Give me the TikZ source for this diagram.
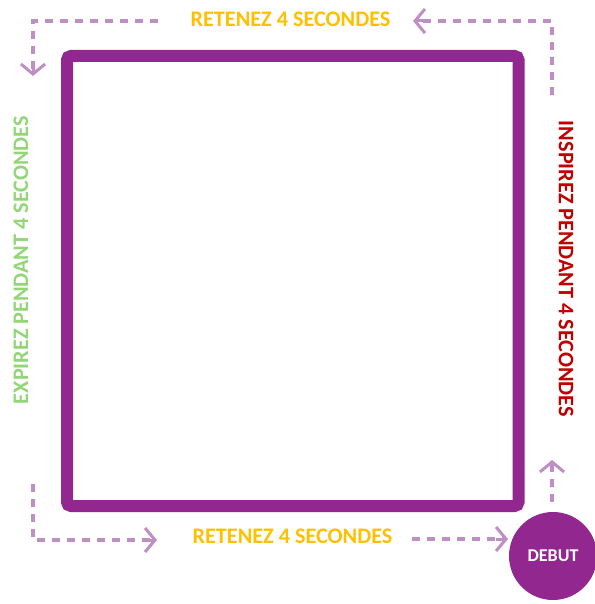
\documentclass[tikz,border=0pt]{standalone}
\usepackage{fontspec}
\setmainfont{Carlito}
\usetikzlibrary{arrows.meta}
\definecolor{boxpurple}{RGB}{146,39,143}
\definecolor{dashpurple}{RGB}{190,142,196}
\definecolor{holdyellow}{RGB}{255,192,0}
\definecolor{exgreen}{RGB}{146,214,120}
\definecolor{inred}{RGB}{192,0,0}
\tikzset{
  flow/.style={draw=dashpurple, line width=3.2pt, dash pattern=on 8pt off 7pt},
  chevron/.style={draw=dashpurple, line width=3pt,
    -{Straight Barb[length=10pt,width=24pt,line width=3pt]}},
  phase/.style={font=\bfseries\fontsize{22.2}{24}\selectfont, inner sep=0pt},
}
\begin{document}
\begin{tikzpicture}[x=1pt,y=-1pt]
  \useasboundingbox (0,0) rectangle (594,604);
  % breathing square
  \draw[boxpurple, line width=12pt, rounded corners=4pt] (67,56) rectangle (518.5,506);
  % start point
  \node[circle, fill=boxpurple, minimum size=88pt, inner sep=0pt, text=white,
        font=\bfseries\fontsize{18}{20}\selectfont] (start) at (553,556) {DEBUT};
  % phase labels
  \node[phase, text=holdyellow] (holdtop) at (290.5,19) {RETENEZ 4 SECONDES};
  \node[phase, text=holdyellow] (holdbot) at (292.5,536) {RETENEZ 4 SECONDES};
  \node[phase, text=exgreen, rotate=90] (exhale) at (21,260) {EXPIREZ PENDANT 4 SECONDES};
  \node[phase, text=inred, rotate=-90] (inhale) at (566,269) {INSPIREZ PENDANT 4 SECONDES};
  % corner waypoints
  \coordinate (tl1) at (158,21);
  \coordinate (tl2) at (33,21);
  \coordinate (tl3) at (33,76);
  \coordinate (tr1) at (552,95);
  \coordinate (tr2) at (552,21);
  \coordinate (tr3) at (413,21);
  \coordinate (bl1) at (33,484);
  \coordinate (bl2) at (33,540);
  \coordinate (bl3) at (157,540);
  \coordinate (br1) at (412,539);
  \coordinate (br2) at (508,539);
  \coordinate (br3) at (552,502);
  \coordinate (br4) at (552,460);
  % dashed direction arrows (shifts are on the page, so +y is upwards)
  \draw[flow] (tl1) -- (tl2) -- ([yshift=4pt]tl3);
  \draw[flow] (tr1) -- (tr2) -- ([xshift=4pt]tr3);
  \draw[flow] (bl1) -- (bl2) -- ([xshift=-4pt]bl3);
  \draw[flow] (br1) -- ([xshift=-4pt]br2);
  \draw[flow] (br3) -- ([yshift=-4pt]br4);
  \draw[chevron] ([yshift=12pt]tl3) -- (tl3);
  \draw[chevron] ([xshift=12pt]tr3) -- (tr3);
  \draw[chevron] ([xshift=-12pt]bl3) -- (bl3);
  \draw[chevron] ([xshift=-12pt]br2) -- (br2);
  \draw[chevron] ([yshift=-12pt]br4) -- (br4);
\end{tikzpicture}
\end{document}
